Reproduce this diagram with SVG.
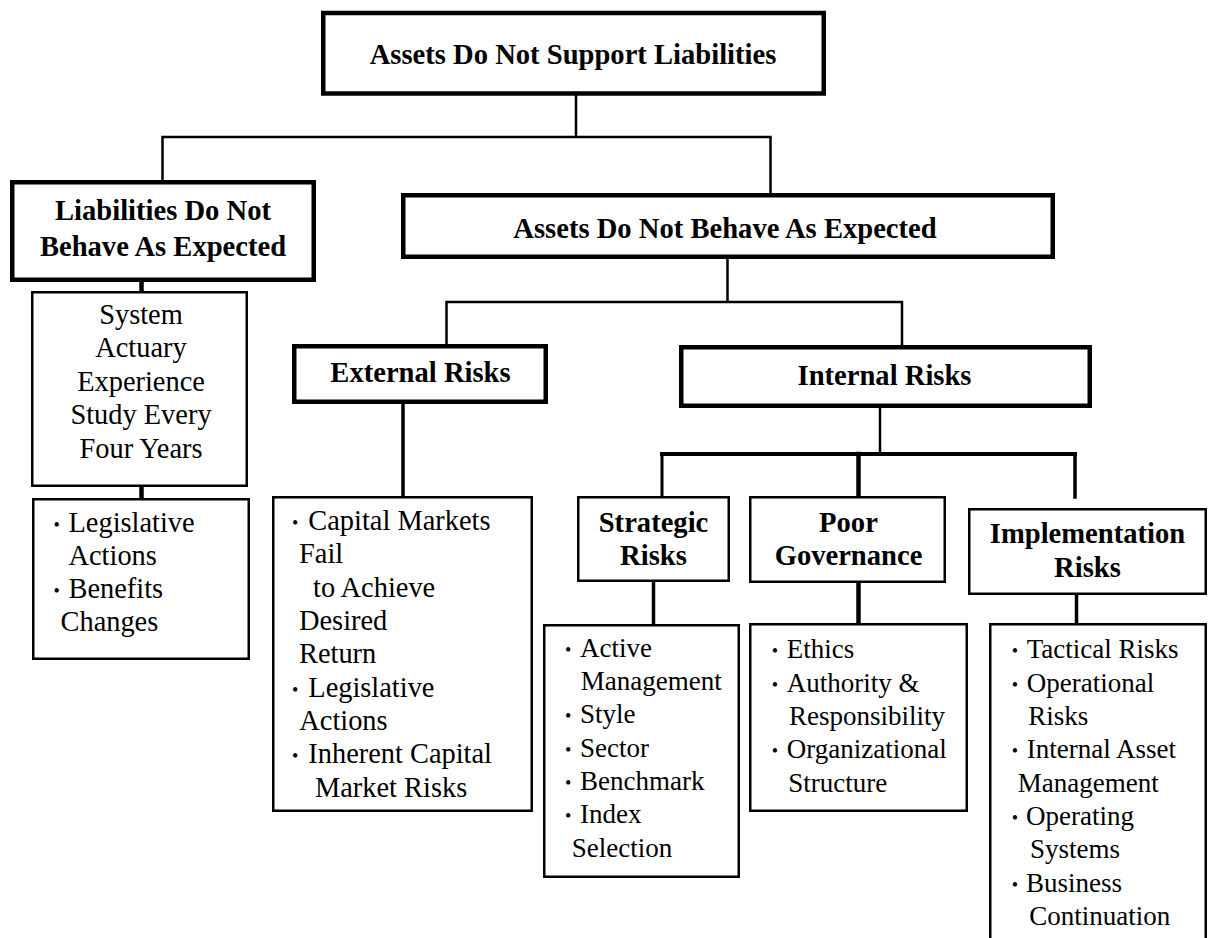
<svg xmlns="http://www.w3.org/2000/svg" width="1208" height="938" viewBox="0 0 1208 938">
<style>
  .thick { fill: #fff; stroke: #000; stroke-width: 4.5; }
  .thin { fill: #fff; stroke: #000; stroke-width: 2.5; }
  .b { font-family: "Liberation Serif", "Times New Roman", serif; font-weight: bold; font-size: 28.6px; fill: #000; text-anchor: middle; }
  .r { font-family: "Liberation Serif", "Times New Roman", serif; font-size: 28.4px; fill: #000; }
  .r2 { font-family: "Liberation Serif", "Times New Roman", serif; font-size: 27px; fill: #000; }
  .c { text-anchor: middle; }
  .bu { font-size: 18px; }
  .ln { fill: none; stroke: #000; stroke-linecap: square; }
</style>
<rect width="1208" height="938" fill="#fff"/>
<g id="connectors">
  <path class="ln" stroke-width="2.5" d="M576,96 V137 M162.5,137 H770.5 M162.5,137 V180 M770.5,137 V193"/>
  <path class="ln" stroke-width="4.5" d="M141.5,282 V291 M141.5,487 V498"/>
  <path class="ln" stroke-width="2.5" d="M727.5,259 V302 M446.5,302 H902 M446.5,302 V345 M902,302 V345"/>
  <path class="ln" stroke-width="3.5" d="M403,404 V496"/>
  <path class="ln" stroke-width="2.5" d="M880,408 V454"/>
  <path class="ln" stroke-width="4" d="M662,454 H1075"/>
  <path class="ln" stroke-width="3" d="M662,454 V496"/>
  <path class="ln" stroke-width="4.5" d="M858.5,454 V496 M858.5,582 V623"/>
  <path class="ln" stroke-width="3.5" d="M1075,454 V497 M653.5,582 V624 M1076.5,595 V623"/>
</g>
<g id="n-top">
  <rect class="thick" x="323.25" y="13" width="500.5" height="80.5"/>
  <text class="b" x="573" y="63.5">Assets Do Not Support Liabilities</text>
</g>
<g id="n-liab">
  <rect class="thick" x="12.25" y="182.25" width="301.5" height="97.5"/>
  <text class="b" x="163" y="220">Liabilities Do Not</text>
  <text class="b" x="163" y="256">Behave As Expected</text>
</g>
<g id="n-assets">
  <rect class="thick" x="403.25" y="195.25" width="649.5" height="61.5"/>
  <text class="b" x="725" y="237.5">Assets Do Not Behave As Expected</text>
</g>
<g id="n-system">
  <rect class="thin" x="32.25" y="292.25" width="214.5" height="193.5"/>
  <text class="r c" x="141" y="324">System</text>
  <text class="r c" x="141" y="357.4">Actuary</text>
  <text class="r c" x="141" y="390.8">Experience</text>
  <text class="r c" x="141" y="424.2">Study Every</text>
  <text class="r c" x="141" y="457.6">Four Years</text>
</g>
<g id="n-legis">
  <rect class="thin" x="33.25" y="499.25" width="215.5" height="159.5"/>
  <text class="r" x="53.5" y="531.5"><tspan class="bu" dy="-1">•</tspan><tspan x="68.5" dy="1">Legislative</tspan></text>
  <text class="r" x="68.5" y="564.5">Actions</text>
  <text class="r" x="53.5" y="597.5"><tspan class="bu" dy="-1">•</tspan><tspan x="68.5" dy="1">Benefits</tspan></text>
  <text class="r" x="60.5" y="630.5">Changes</text>
</g>
<g id="n-external">
  <rect class="thick" x="294.25" y="346.25" width="251.5" height="55.5"/>
  <text class="b" x="420.5" y="382">External Risks</text>
</g>
<g id="n-capital">
  <rect class="thin" x="273.25" y="497.25" width="258.5" height="313.5"/>
  <text class="r" x="292" y="530"><tspan class="bu" dy="-1">•</tspan><tspan x="308.3" dy="1">Capital Markets</tspan></text>
  <text class="r" x="299" y="563.3">Fail</text>
  <text class="r" x="313" y="596.7">to Achieve</text>
  <text class="r" x="299" y="630">Desired</text>
  <text class="r" x="299" y="663.3">Return</text>
  <text class="r" x="292" y="696.7"><tspan class="bu" dy="-1">•</tspan><tspan x="308.3" dy="1">Legislative</tspan></text>
  <text class="r" x="299.3" y="730">Actions</text>
  <text class="r" x="292" y="763.3"><tspan class="bu" dy="-1">•</tspan><tspan x="308.3" dy="1">Inherent Capital</tspan></text>
  <text class="r" x="315" y="796.7">Market Risks</text>
</g>
<g id="n-internal">
  <rect class="thick" x="681.25" y="347.25" width="408.5" height="58.5"/>
  <text class="b" x="884.5" y="385">Internal Risks</text>
</g>
<g id="n-strategic">
  <rect class="thin" x="578.25" y="497.25" width="150.5" height="83.5"/>
  <text class="b" x="653.5" y="531.7">Strategic</text>
  <text class="b" x="653.5" y="565">Risks</text>
</g>
<g id="n-active">
  <rect class="thin" x="544.25" y="625.25" width="194.5" height="251.5"/>
  <text class="r2" x="565" y="656.7"><tspan class="bu" dy="-1">•</tspan><tspan x="580" dy="1">Active</tspan></text>
  <text class="r2" x="580.7" y="690">Management</text>
  <text class="r2" x="565" y="723.3"><tspan class="bu" dy="-1">•</tspan><tspan x="580" dy="1">Style</tspan></text>
  <text class="r2" x="565" y="756.7"><tspan class="bu" dy="-1">•</tspan><tspan x="580" dy="1">Sector</tspan></text>
  <text class="r2" x="565" y="790"><tspan class="bu" dy="-1">•</tspan><tspan x="580" dy="1">Benchmark</tspan></text>
  <text class="r2" x="565" y="823.3"><tspan class="bu" dy="-1">•</tspan><tspan x="580" dy="1">Index</tspan></text>
  <text class="r2" x="571.7" y="856.7">Selection</text>
</g>
<g id="n-poor">
  <rect class="thin" x="750.25" y="497.25" width="194.5" height="84.5"/>
  <text class="b" x="848.5" y="531.7">Poor</text>
  <text class="b" x="848.5" y="565">Governance</text>
</g>
<g id="n-ethics">
  <rect class="thin" x="750.25" y="624.25" width="216.5" height="186.5"/>
  <text class="r2" x="771.7" y="658.3"><tspan class="bu" dy="-1">•</tspan><tspan x="786.7" dy="1">Ethics</tspan></text>
  <text class="r2" x="771.7" y="691.7"><tspan class="bu" dy="-1">•</tspan><tspan x="786.7" dy="1">Authority &amp;</tspan></text>
  <text class="r2" x="789" y="725">Responsibility</text>
  <text class="r2" x="771.7" y="758.3"><tspan class="bu" dy="-1">•</tspan><tspan x="786.7" dy="1">Organizational</tspan></text>
  <text class="r2" x="788.3" y="791.7">Structure</text>
</g>
<g id="n-impl">
  <rect class="thin" x="969.25" y="509.25" width="236.5" height="84.5"/>
  <text class="b" x="1087.5" y="543.3">Implementation</text>
  <text class="b" x="1087.5" y="576.7">Risks</text>
</g>
<g id="n-tactical">
  <rect class="thin" x="990.25" y="624.25" width="215.5" height="330"/>
  <text class="r2" x="1011.7" y="658.3"><tspan class="bu" dy="-1">•</tspan><tspan x="1026.7" dy="1">Tactical Risks</tspan></text>
  <text class="r2" x="1011.7" y="691.7"><tspan class="bu" dy="-1">•</tspan><tspan x="1026.7" dy="1">Operational</tspan></text>
  <text class="r2" x="1028.3" y="725">Risks</text>
  <text class="r2" x="1011.7" y="758.3"><tspan class="bu" dy="-1">•</tspan><tspan x="1026.7" dy="1">Internal Asset</tspan></text>
  <text class="r2" x="1017.7" y="791.7">Management</text>
  <text class="r2" x="1011.7" y="825"><tspan class="bu" dy="-1">•</tspan><tspan x="1026" dy="1">Operating</tspan></text>
  <text class="r2" x="1030" y="858.3">Systems</text>
  <text class="r2" x="1011.7" y="891.7"><tspan class="bu" dy="-1">•</tspan><tspan x="1026" dy="1">Business</tspan></text>
  <text class="r2" x="1029.3" y="925">Continuation</text>
</g>
</svg>
